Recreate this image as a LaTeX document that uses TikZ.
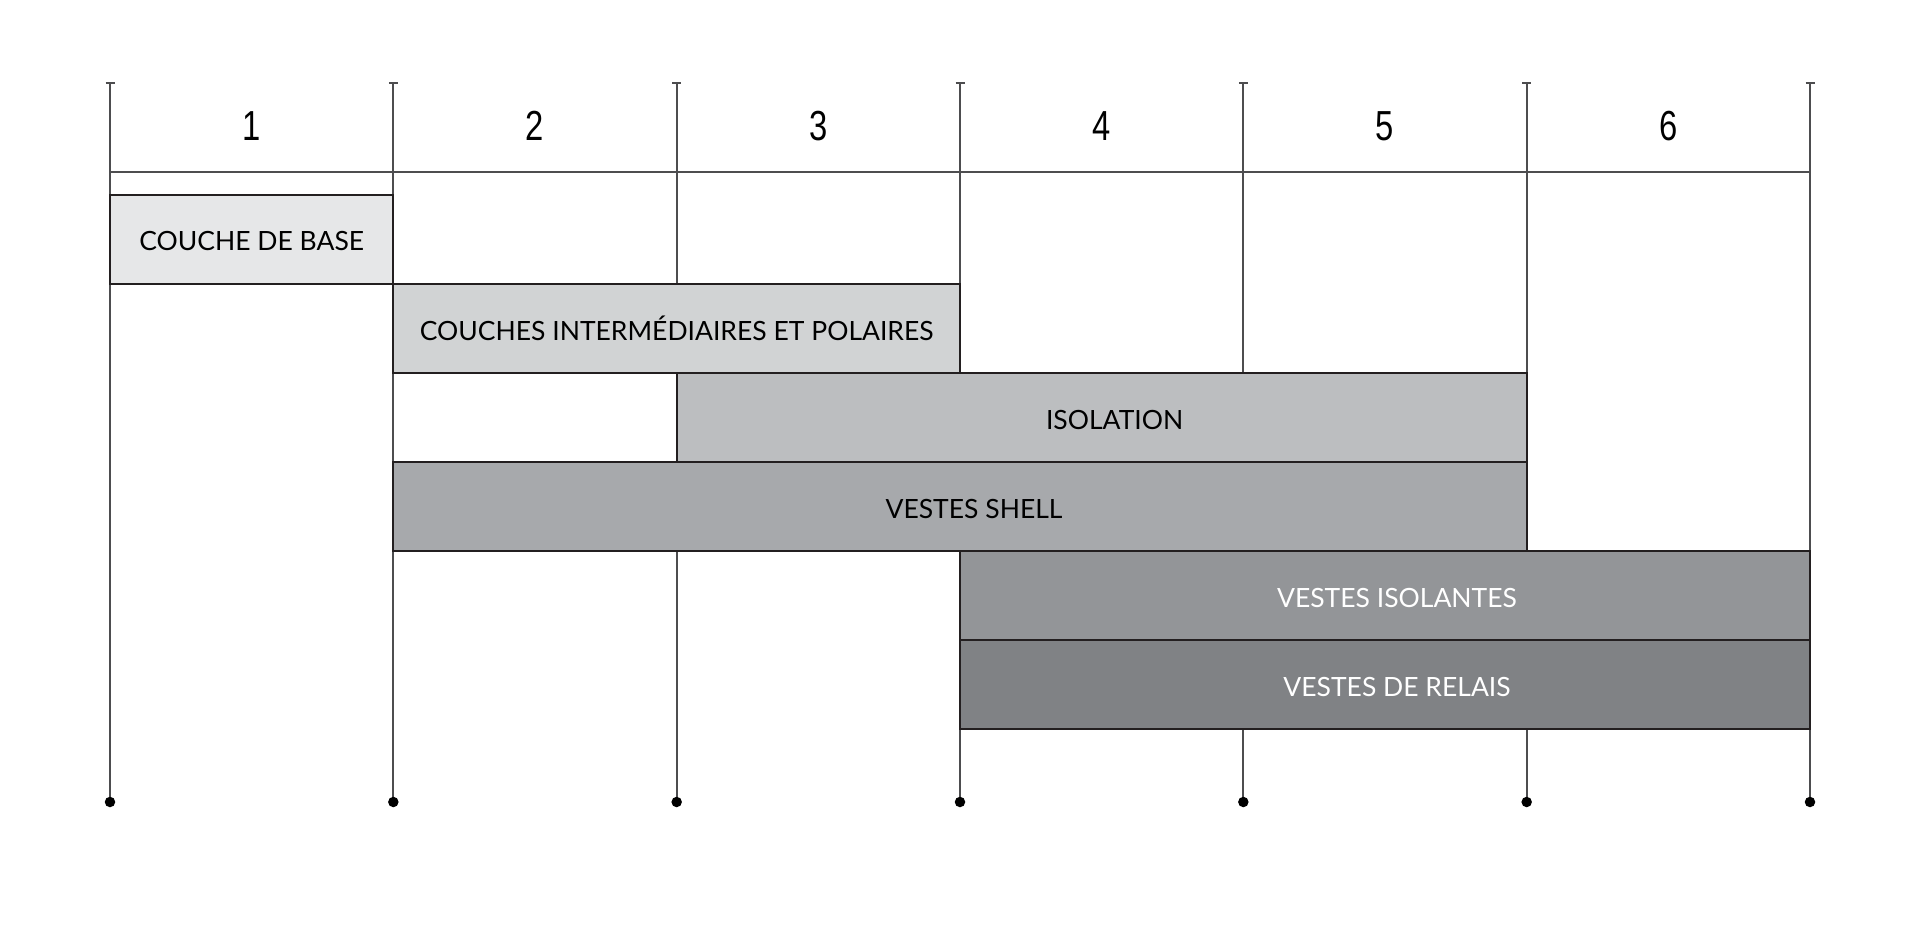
\documentclass[tikz,border=0pt]{standalone}
\usepackage{fontspec}
\setmainfont{Lato}
\newfontfamily\numfont[FakeStretch=0.78]{Liberation Sans}
\definecolor{gA}{HTML}{E6E7E8}
\definecolor{gB}{HTML}{D1D3D4}
\definecolor{gC}{HTML}{BCBEC0}
\definecolor{gD}{HTML}{A7A9AC}
\definecolor{gE}{HTML}{939598}
\definecolor{gF}{HTML}{808285}
\definecolor{gridc}{HTML}{4D4D4F}
\definecolor{edgec}{HTML}{231F20}
\tikzset{
  gridline/.style={draw=gridc, line width=1.8pt},
  tickline/.style={draw=gridc, line width=1.8pt},
  enddot/.style={circle, fill=black, inner sep=0pt, minimum size=10.5pt},
  colnum/.style={font=\numfont\fontsize{42}{42}\selectfont, text=black, inner sep=0pt},
  barbox/.style={draw=edgec, line width=1.8pt, rectangle, anchor=north west, minimum height=89pt, inner sep=0pt, outer sep=0pt},
  barlbl/.style={font=\fontsize{26.5}{26.5}\selectfont, inner sep=0pt, anchor=base},
}
\begin{document}
\begin{tikzpicture}[x=1pt,y=-1pt]
\useasboundingbox (0,0) rectangle (1920,944);
\fill[white] (0,0) rectangle (1920,944);
% grid
\foreach \i in {0,...,6}{
  \coordinate (t\i) at ({110+283.333*\i},83);
  \coordinate (b\i) at ({110+283.333*\i},802);
  \draw[gridline] (t\i) -- (b\i);
  \draw[tickline] ([xshift=-4.5pt]t\i) -- ([xshift=4.5pt]t\i);
  \node[enddot] (d\i) at (b\i) {};
}
\coordinate (h0) at (110,172);
\coordinate (h6) at (1810,172);
\draw[gridline] (h0) -- (h6);
\foreach \i/\n in {0/1,1/2,2/3,3/4,4/5,5/6}{
  \node[colnum] (n\n) at ({251.667+283.333*\i},126) {\n};
}
% bars
\node[barbox, fill=gA, minimum width=283.333pt] (bx1) at (110,195) {};
\node[barbox, fill=gB, minimum width=566.667pt] (bx2) at (393.333,284) {};
\node[barbox, fill=gC, minimum width=850pt] (bx3) at (676.667,373) {};
\node[barbox, fill=gD, minimum width=1133.333pt] (bx4) at (393.333,462) {};
\node[barbox, fill=gE, minimum width=850pt] (bx5) at (960,551) {};
\node[barbox, fill=gF, minimum width=850pt] (bx6) at (960,640) {};
\node[barlbl, text=black] (l1) at ([yshift=-11.5pt]bx1.center) {COUCHE DE BASE};
\node[barlbl, text=black] (l2) at ([yshift=-11.5pt]bx2.center) {COUCHES INTERMÉDIAIRES ET POLAIRES};
\node[barlbl, text=black] (l3) at ([xshift=13pt,yshift=-11.5pt]bx3.center) {ISOLATION};
\node[barlbl, text=black] (l4) at ([xshift=14pt,yshift=-11.5pt]bx4.center) {VESTES SHELL};
\node[barlbl, text=white] (l5) at ([xshift=12pt,yshift=-11.5pt]bx5.center) {VESTES ISOLANTES};
\node[barlbl, text=white] (l6) at ([xshift=12pt,yshift=-11.5pt]bx6.center) {VESTES DE RELAIS};
\end{tikzpicture}
\end{document}
